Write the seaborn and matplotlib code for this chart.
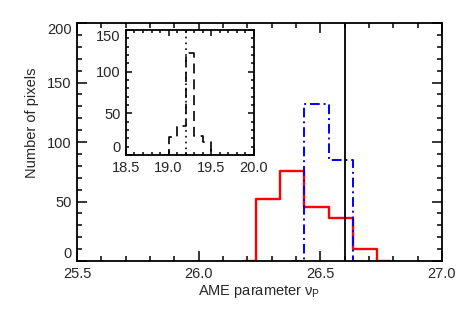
import numpy as np
import pandas as pd
import seaborn as sns
from matplotlib import pyplot as plt
from matplotlib.ticker import MultipleLocator

# main histograms (bin centres, counts) - drawn IDL psym=10 style
red_x = [26.185, 26.285, 26.385, 26.485, 26.585, 26.685, 26.785]
red_n = [0, 52, 76, 45, 36, 10, 0]
blue_x = [26.385, 26.485, 26.585, 26.685]
blue_n = [0, 132, 85, 0]
nu_line = 26.6

# inset histogram
ins_x = [18.95, 19.05, 19.15, 19.25, 19.35, 19.45, 19.55]
ins_n = [0, 22, 35, 123, 23, 16, 0]
ins_line = 19.2

FS = 10.5

sns.set_style("ticks")
plt.rcParams['font.family'] = ['Liberation Sans', 'DejaVu Sans']
plt.rcParams['mathtext.fontset'] = 'custom'
plt.rcParams['mathtext.rm'] = 'Liberation Sans'


def idl_axes(a, major_len, minor_len):
    a.tick_params(which="both", direction="in", top=True, right=True,
                  labelsize=FS, color="black", width=1.1, pad=4)
    a.tick_params(which="major", length=major_len)
    a.tick_params(which="minor", length=minor_len)
    a.xaxis.set_major_formatter(lambda v, p: f"{v:.1f}")
    a.yaxis.set_major_formatter(lambda v, p: f"{v:.0f}")
    for s in a.spines.values():
        s.set_linewidth(1.3)
        s.set_color("black")


def pin_end_labels(a):
    # IDL keeps the end y labels inside the axis range
    lo, hi = a.get_ylim()
    for tick in a.yaxis.get_major_ticks():
        y = tick.get_loc()
        if abs(y - lo) < 1e-6:
            tick.label1.set_va("bottom")
        elif abs(y - hi) < 1e-6:
            tick.label1.set_va("top")


fig = plt.figure(figsize=(4.63, 3.09), dpi=100)
ax = fig.add_axes([0.1663, 0.1553, 0.788, 0.770])

red = pd.DataFrame({"x": red_x, "n": red_n})
blue = pd.DataFrame({"x": blue_x, "n": blue_n})
sns.lineplot(data=red, x="x", y="n", ax=ax, color="red", lw=1.7,
             drawstyle="steps-mid", sort=False)
sns.lineplot(data=blue, x="x", y="n", ax=ax, color="blue", lw=1.4,
             drawstyle="steps-mid", sort=False, linestyle=(0, (5, 2, 1, 2)))
ax.axvline(nu_line, color="black", lw=1.3)

ax.set_xlim(25.5, 27.0)
ax.set_ylim(0, 200)
ax.xaxis.set_major_locator(MultipleLocator(0.5))
ax.xaxis.set_minor_locator(MultipleLocator(0.1))
ax.yaxis.set_major_locator(MultipleLocator(50))
ax.yaxis.set_minor_locator(MultipleLocator(10))
idl_axes(ax, 7, 3.5)
ax.set_xlabel("AME parameter ν$_\\mathrm{P}$", fontsize=FS, labelpad=2)
ax.set_ylabel("Number of pixels", fontsize=FS)
ax.yaxis.set_label_coords(-0.105, 0.58)

# inset
axi = fig.add_axes([0.272, 0.4984, 0.2765, 0.4045])
ins = pd.DataFrame({"x": ins_x, "n": ins_n})
sns.lineplot(data=ins, x="x", y="n", ax=axi, color="black", lw=1.2,
             drawstyle="steps-mid", sort=False, linestyle=(0, (6, 3.5)))
axi.axvline(ins_line, color="black", lw=1.2, linestyle=(0, (1, 2.5)))
axi.set_xlim(18.5, 20.0)
axi.set_ylim(0, 150)
axi.xaxis.set_major_locator(MultipleLocator(0.5))
axi.xaxis.set_minor_locator(MultipleLocator(0.1))
axi.yaxis.set_major_locator(MultipleLocator(50))
axi.yaxis.set_minor_locator(MultipleLocator(10))
idl_axes(axi, 4, 2)
axi.set_xlabel("")
axi.set_ylabel("")

fig.canvas.draw()
pin_end_labels(ax)
pin_end_labels(axi)

fig.savefig("out.png", dpi=100)
